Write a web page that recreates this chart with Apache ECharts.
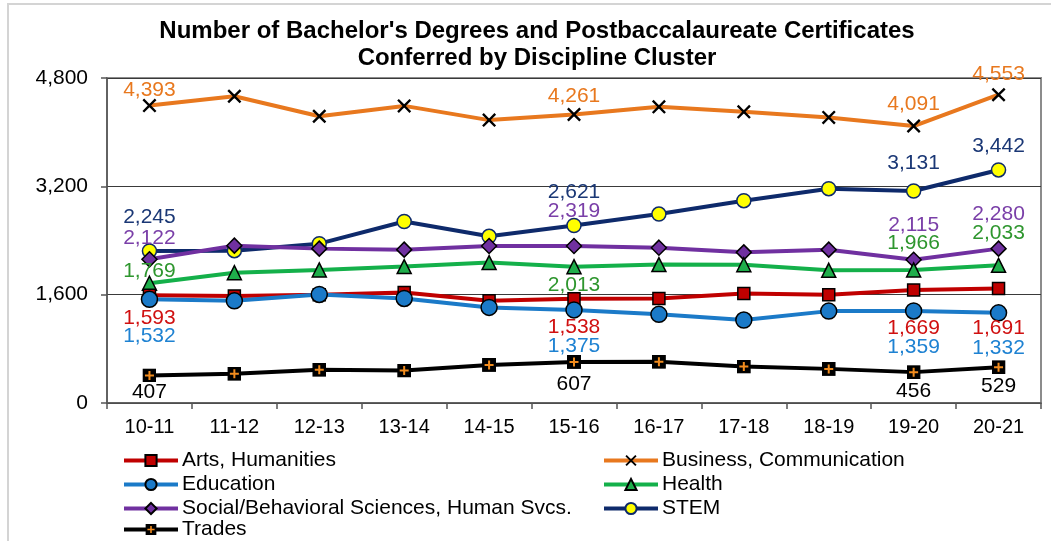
<!DOCTYPE html>
<html>
<head>
<meta charset="utf-8">
<style>
  html, body { margin: 0; padding: 0; background: #fff; }
  #chart { width: 1051px; height: 541px; }
</style>
<script src="https://cdn.jsdelivr.net/npm/echarts@6/dist/echarts.min.js"></script>
</head>
<body>
<div id="chart"></div>
<script>
// Academic years
const years = ['10-11', '11-12', '12-13', '13-14', '14-15', '15-16', '16-17', '17-18', '18-19', '19-20', '20-21'];

// Degrees and certificates conferred, by discipline cluster
const arts      = [1593, 1580, 1600, 1632, 1510, 1538, 1544, 1618, 1597, 1669, 1691];
const business  = [4393, 4530, 4235, 4388, 4178, 4261, 4374, 4300, 4218, 4091, 4553];
const education = [1532, 1509, 1603, 1544, 1412, 1375, 1309, 1225, 1357, 1359, 1332];
const health    = [1769, 1925, 1965, 2015, 2074, 2013, 2044, 2042, 1960, 1966, 2033];
const social    = [2122, 2324, 2280, 2265, 2318, 2319, 2294, 2225, 2265, 2115, 2280];
const stem      = [2245, 2250, 2353, 2680, 2462, 2621, 2790, 2988, 3165, 3131, 3442];
const trades    = [407, 431, 490, 480, 563, 607, 608, 538, 504, 456, 529];

// Y axis ticks
const yTicks = [0, 1600, 3200, 4800];

const FONT = '"Liberation Sans", Arial, sans-serif';
const fmt = v => Number(v).toLocaleString('en-US');

// Vertical label shift (px) for each year that carries a value label
const labelShift = {
  arts:      { 0: 23, 5: 28, 9: 38, 10: 40 },
  business:  { 0: -15, 5: -18, 9: -22, 10: -21 },
  education: { 0: 37, 5: 36, 9: 36, 10: 35 },
  health:    { 0: -12, 5: 18, 9: -27, 10: -32 },
  social:    { 0: -21, 5: -35, 9: -35, 10: -34 },
  stem:      { 0: -34, 5: -33, 9: -28, 10: -24 },
  trades:    { 0: 17, 5: 22, 9: 19, 10: 19 }
};

function withLabels(values, shifts, color) {
  return values.map((v, i) => {
    if (shifts[i] === undefined) return v;
    return {
      value: v,
      label: {
        show: true,
        position: 'inside',
        offset: [0, shifts[i]],
        color: color,
        fontFamily: FONT,
        fontSize: 21,
        formatter: p => fmt(p.value)
      }
    };
  });
}

const crossSymbol = 'path://M0,1.2L1.2,0L5,3.8L8.8,0L10,1.2L6.2,5L10,8.8L8.8,10L5,6.2L1.2,10L0,8.8L3.8,5Z';
const tradesSvg = "<svg xmlns='http://www.w3.org/2000/svg' width='14' height='14'>" +
  "<rect x='0.75' y='0.75' width='12.5' height='12.5' fill='#000' stroke='#000' stroke-width='1.5'/>" +
  "<path d='M7 2.5V11.5M2.5 7H11.5' stroke='#F28C1E' stroke-width='2'/></svg>";
const tradesSymbol = 'image://data:image/svg+xml;utf8,' + encodeURIComponent(tradesSvg);

function makeSeries(name, values, key, lineColor, labelColor, symbol, size, fill, border) {
  return {
    name: name,
    type: 'line',
    data: withLabels(values, labelShift[key], labelColor),
    symbol: symbol,
    symbolSize: size,
    showAllSymbol: true,
    lineStyle: { color: lineColor, width: 4 },
    itemStyle: { color: fill, borderColor: border, borderWidth: border ? 1.5 : 0 },
    label: { show: false },
    emphasis: { disabled: true },
    animation: false
  };
}

function legendBlock(left, top, names) {
  return {
    orient: 'vertical', left: left, top: top, padding: 0,
    itemWidth: 54, itemHeight: 14, itemGap: 1,
    lineStyle: { width: 4 },
    textStyle: { fontFamily: FONT, fontSize: 21, color: '#000', lineHeight: 23, padding: [0, 0, 0, -1] },
    data: names
  };
}

const chart = echarts.init(document.getElementById('chart'), null, { renderer: 'canvas' });

chart.setOption({
  backgroundColor: '#fff',
  animation: false,
  textStyle: { fontFamily: FONT },
  graphic: [
    { type: 'rect', shape: { x: 8, y: 4, width: 1200, height: 700 },
      style: { fill: 'none', stroke: '#d4d4d4', lineWidth: 2 }, silent: true, z: -10 },
    { type: 'text', x: 537, y: 31,
      style: { text: "Number of Bachelor's Degrees and Postbaccalaureate Certificates",
               fontFamily: FONT, fontSize: 24, fontWeight: 'bold', fill: '#000',
               align: 'center', verticalAlign: 'middle' } },
    { type: 'text', x: 537, y: 58,
      style: { text: 'Conferred by Discipline Cluster',
               fontFamily: FONT, fontSize: 24, fontWeight: 'bold', fill: '#000',
               align: 'center', verticalAlign: 'middle' } }
  ],
  grid: {
    left: 107, right: 10, top: 78, bottom: 138,
    show: true, borderColor: '#8c8c8c', borderWidth: 2, backgroundColor: 'transparent'
  },
  legend: [
    legendBlock(122, 449, ['Arts, Humanities', 'Education', 'Social/Behavioral Sciences, Human Svcs.']),
    legendBlock(122, 518, ['Trades']),
    legendBlock(602, 449, ['Business, Communication', 'Health', 'STEM'])
  ],
  xAxis: {
    type: 'category',
    data: years,
    boundaryGap: true,
    axisLine: { lineStyle: { color: '#555', width: 1.5 } },
    axisTick: { show: true, length: 6, inside: false, alignWithLabel: false, lineStyle: { color: '#555', width: 1.5 } },
    axisLabel: { color: '#000', fontFamily: FONT, fontSize: 20, margin: 14, interval: 0 },
    splitLine: { show: false }
  },
  yAxis: {
    type: 'value',
    min: yTicks[0],
    max: yTicks[yTicks.length - 1],
    interval: yTicks[1] - yTicks[0],
    axisLine: { show: true, lineStyle: { color: '#555', width: 1.5 } },
    axisTick: { show: true, length: 6, inside: false, lineStyle: { color: '#555', width: 1.5 } },
    axisLabel: { color: '#000', fontFamily: FONT, fontSize: 21, margin: 19, formatter: v => fmt(v) },
    splitLine: { show: true, lineStyle: { color: '#3a3a3a', width: 1 } }
  },
  series: [
    makeSeries('Business, Communication', business, 'business', '#E8781E', '#E8781E', crossSymbol, 14, '#000', null),
    makeSeries('STEM', stem, 'stem', '#0E2A6B', '#1A3775', 'circle', 14, '#FFFF00', '#0E2A6B'),
    makeSeries('Social/Behavioral Sciences, Human Svcs.', social, 'social', '#7030A0', '#7A3FA8', 'diamond', 15, '#7030A0', '#000'),
    makeSeries('Health', health, 'health', '#14B04A', '#2E962E', 'triangle', 14, '#1FAE4B', '#000'),
    makeSeries('Arts, Humanities', arts, 'arts', '#C00000', '#D01010', 'rect', 12, '#C00000', '#000'),
    makeSeries('Education', education, 'education', '#1B7AC8', '#1E82D2', 'circle', 16, '#1B7AC8', '#000'),
    makeSeries('Trades', trades, 'trades', '#000', '#000', tradesSymbol, 14, '#000', null)
  ]
});
</script>
</body>
</html>
